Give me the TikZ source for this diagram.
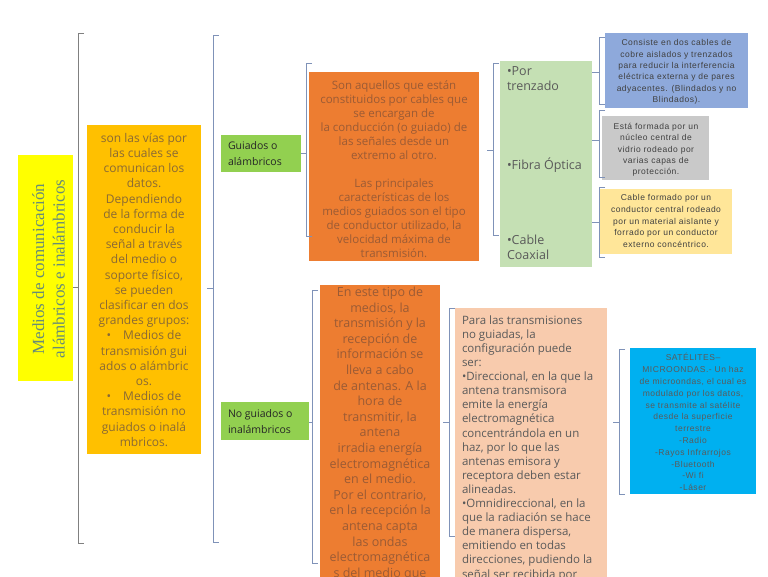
\documentclass[tikz,border=0pt]{standalone}
\usepackage{fontspec}
\setmainfont{Open Sans}
\newfontfamily\arialf[LetterSpace=6]{Liberation Sans}
\newfontfamily\timesf{Liberation Serif}
\definecolor{cTitle}{HTML}{FFFF00}
\definecolor{cTitleTxt}{HTML}{678C78}
\definecolor{cGold}{HTML}{FFC000}
\definecolor{cGoldTxt}{HTML}{8A6A35}
\definecolor{cGreen}{HTML}{92D050}
\definecolor{cOrange}{HTML}{ED7D31}
\definecolor{cOrangeTxt}{HTML}{9B5B35}
\definecolor{cLGreen}{HTML}{C5E0B4}
\definecolor{cBlue}{HTML}{8EA9DB}
\definecolor{cGray}{HTML}{C9C9C9}
\definecolor{cYellow}{HTML}{FFE699}
\definecolor{cPeach}{HTML}{F8CBAD}
\definecolor{cCyan}{HTML}{00B0F0}
\definecolor{cBrk}{HTML}{7F92B8}
\definecolor{cDark}{HTML}{404040}
\definecolor{cMid}{HTML}{5A5A5A}
\begin{document}
\begin{tikzpicture}[x=1pt,y=-1pt,
  box/.style={draw=none, anchor=north west, inner sep=0, outer sep=0},
  txt/.style={inner sep=0, outer sep=0, anchor=north, align=center},
  ltxt/.style={inner sep=0, outer sep=0, anchor=north west, align=left},
  brk/.style={draw=cBrk, line width=0.8pt},
  small/.style={font=\arialf\fontsize{8.5}{#1}\selectfont, text=cDark},
]
\useasboundingbox (0,0) rectangle (768,576);
\clip (0,0) rectangle (768,576);

% ---------- boxes ----------
\node[box, fill=cTitle, minimum width=55, minimum height=226] (title) at (18,155) {};
\node[box, fill=cGold, minimum width=114, minimum height=329] (gold) at (87,125) {};
\node[box, fill=cGreen, minimum width=80, minimum height=37] (g1) at (221,135) {};
\node[box, fill=cGreen, minimum width=88, minimum height=38] (g2) at (221,402) {};
\node[box, fill=cOrange, minimum width=170, minimum height=189] (o1) at (309,72) {};
\node[box, fill=cOrange, minimum width=120, minimum height=320] (o2) at (320,285) {};
\node[box, fill=cLGreen, minimum width=92, minimum height=206] (lg) at (500,61) {};
\node[box, fill=cPeach, minimum width=152, minimum height=300] (pe) at (455,308) {};
\node[box, fill=cBlue, minimum width=143, minimum height=75] (bl) at (605,33) {};
\node[box, fill=cGray, minimum width=107, minimum height=64] (gr) at (602,116) {};
\node[box, fill=cYellow, minimum width=132, minimum height=65] (ye) at (600,189) {};
\node[box, fill=cCyan, minimum width=126, minimum height=146] (cy) at (630,348) {};

% ---------- texts ----------
\node[rotate=90, align=center, inner sep=0, font=\timesf\fontsize{17}{20.5}\selectfont, text=cTitleTxt] (titletxt) at (48.5,269)
  {Medios de comunicación\\alámbricos e inalámbricos};

\node[txt, font=\fontsize{12}{15.2}\selectfont, text=cGoldTxt] (goldtxt) at (144,133)
  {son las vías por\\las cuales se\\comunican los\\datos.\\Dependiendo\\de la forma de\\conducir la\\señal a través\\del medio o\\soporte físico,\\se pueden\\clasificar en dos\\grandes grupos:\\•\quad Medios de\\transmisión gui\\ados o alámbric\\os.\\•\quad Medios de\\transmisión no\\guiados o inalá\\mbricos.};

\node[ltxt, font=\fontsize{10.5}{16}\selectfont, text=black!85] (g1txt) at (228,141.5) {Guiados o\\alámbricos};
\node[ltxt, font=\fontsize{10.5}{16}\selectfont, text=black!85] (g2txt) at (228,409.5) {No guiados o\\inalámbricos};

\node[txt, font=\fontsize{11.5}{14}\selectfont, text=cOrangeTxt] (o1txt) at (394,80.5)
  {Son aquellos que están\\constituidos por cables que\\se encargan de\\la conducción (o guiado) de\\las señales desde un\\extremo al otro.\\[14pt]Las principales\\características de los\\medios guiados son el tipo\\de conductor utilizado, la\\velocidad máxima de\\transmisión.};

\node[txt, font=\fontsize{12.5}{15.6}\selectfont, text=cOrangeTxt] (o2txt) at (380,287)
  {En este tipo de\\medios, la\\transmisión y la\\recepción de\\información se\\lleva a cabo\\de antenas. A la\\hora de\\transmitir, la\\antena\\irradia energía\\electromagnética\\en el medio.\\Por el contrario,\\en la recepción la\\antena capta\\las ondas\\electromagnética\\s del medio que};

\node[ltxt, font=\fontsize{12.5}{15}\selectfont, text=cMid] (lg1) at (507,67) {•Por\\trenzado};
\node[ltxt, font=\fontsize{12.5}{15}\selectfont, text=cMid] (lg2) at (507,158) {•Fibra Óptica};
\node[ltxt, font=\fontsize{12.5}{15}\selectfont, text=cMid] (lg3) at (507,235) {•Cable\\Coaxial};

\node[ltxt, font=\fontsize{11.5}{14.1}\selectfont, text=cMid] (petxt) at (462,315.5)
  {Para las transmisiones\\no guiadas, la\\configuración puede\\ser:\\•Direccional, en la que la\\antena transmisora\\emite la energía\\electromagnética\\concentrándola en un\\haz, por lo que las\\antenas emisora y\\receptora deben estar\\alineadas.\\•Omnidireccional, en la\\que la radiación se hace\\de manera dispersa,\\emitiendo en todas\\direcciones, pudiendo la\\señal ser recibida por};

\node[txt, small=11.4] (bltxt) at (676.5,39.5)
  {Consiste en dos cables de\\cobre aislados y trenzados\\para reducir la interferencia\\eléctrica externa y de pares\\adyacentes. (Blindados y no\\Blindados).};
\node[txt, small=11.2] (grtxt) at (656,123.5)
  {Está formada por un\\núcleo central de\\vidrio rodeado por\\varias capas de\\protección.};
\node[txt, small=11.7] (yetxt) at (666,194.5)
  {Cable formado por un\\conductor central rodeado\\por un material aislante y\\forrado por un conductor\\externo concéntrico.};
\node[txt, small=11.8, text=cMid] (cytxt) at (693,353.5)
  {SATÉLITES–\\MICROONDAS.- Un haz\\de microondas, el cual es\\modulado por los datos,\\se transmite al satélite\\desde la superficie\\terrestre\\-Radio\\-Rayos Infrarrojos\\-Bluetooth\\-Wi fi\\-Láser};

% ---------- brackets ----------
\coordinate (b1t) at (78,33);  \coordinate (b1b) at (78,543); \coordinate (b1m) at (78,287);
\coordinate (b2t) at (213,35); \coordinate (b2b) at (213,542); \coordinate (b2m) at (213,288);
\coordinate (b3t) at (306,63); \coordinate (b3b) at (306,236); \coordinate (b3m) at (306,153);
\coordinate (b4t) at (493,63); \coordinate (b4b) at (493,235); \coordinate (b4m) at (493,150);
\coordinate (b5t) at (599,37); \coordinate (b5b) at (599,104); \coordinate (b5m) at (599,72);
\coordinate (b6t) at (599,110); \coordinate (b6b) at (599,177); \coordinate (b6m) at (599,140);
\coordinate (b7t) at (599,187); \coordinate (b7b) at (599,257); \coordinate (b7m) at (599,222);
\coordinate (b8t) at (312,290); \coordinate (b8b) at (312,563); \coordinate (b8m) at (312,422);
\coordinate (b9t) at (449,308); \coordinate (b9b) at (449,536); \coordinate (b9m) at (449,422);
\coordinate (b10t) at (619,349); \coordinate (b10b) at (619,494); \coordinate (b10m) at (619,422);

\draw[brk, draw=gray] ([xshift=6pt]b1t) -- (b1t) -- (b1b) -- ([xshift=6pt]b1b);
\foreach \b in {b2,b3,b4,b5,b6,b7,b8,b9,b10}
  \draw[brk] ([xshift=6pt]\b t) -- (\b t) -- (\b b) -- ([xshift=6pt]\b b);

% ---------- ticks ----------
\draw[brk, draw=gray] (title.east |- b1m) -- (b1m);
\draw[brk] ([xshift=-6pt]b2m) -- (b2m);
\draw[brk] (g1.east |- b3m) -- (b3m);
\draw[brk] ([xshift=-6pt]b4m) -- (b4m);
\draw[brk] (lg.east |- b5m) -- (b5m);
\draw[brk] (lg.east |- b6m) -- (b6m);
\draw[brk] (lg.east |- b7m) -- (b7m);
\draw[brk] (g2.east |- b8m) -- (b8m);
\draw[brk] ([xshift=-6pt]b9m) -- (b9m);
\draw[brk] ([xshift=-6pt]b10m) -- (b10m);
\end{tikzpicture}
\end{document}
